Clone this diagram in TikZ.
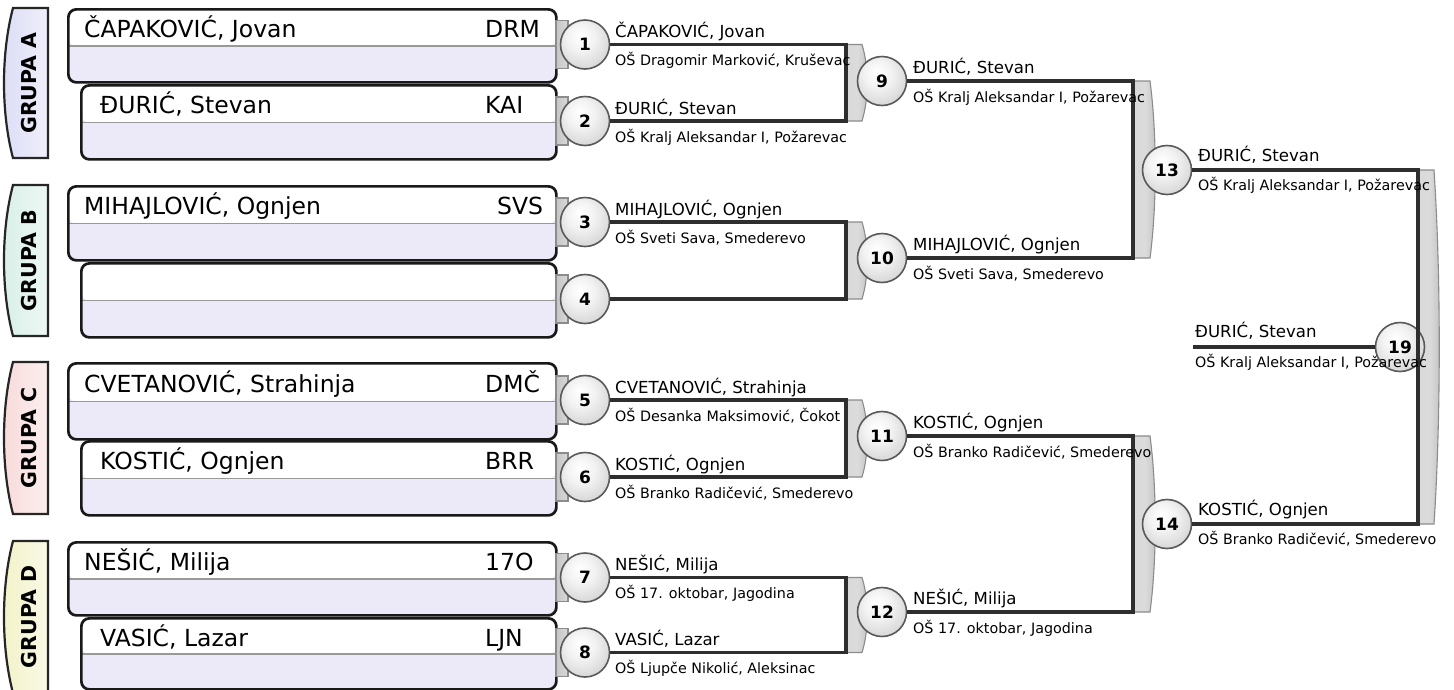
\documentclass[tikz,border=0pt]{standalone}
\usepackage{fontspec}
\setmainfont{DejaVu Sans}
\usetikzlibrary{calc}
\definecolor{boxlav}{HTML}{ECEAF8}
\definecolor{grpA}{HTML}{DCDCF6}
\definecolor{grpB}{HTML}{D8EFE8}
\definecolor{grpC}{HTML}{F8DADA}
\definecolor{grpD}{HTML}{F2F2C8}
\pgfdeclareradialshading{myball}{\pgfpoint{-6bp}{10bp}}{color(0bp)=(white); color(14bp)=(white!90!gray); color(30bp)=(white!68!gray); color(50bp)=(white!42!gray)}
\newcommand\brkshape[4]{%
  \draw[brk] (#1,#2) -- ({#1+#4},#2) .. controls ({#1+#4+7},{#2+0.3*(#3-#2)}) and ({#1+#4+7},{#2+0.7*(#3-#2)}) .. ({#1+#4},#3) -- (#1,#3) -- cycle;}
\newcommand\grptab[4]{% top, bottom, colour, text
  \draw[gtab, left color=#3, right color=#3!45!white] (48,#1) -- (13,#1) .. controls (1,{#1+0.3*(#2-#1)}) and (1,{#1+0.7*(#2-#1)}) .. (13,#2) -- (48,#2) -- cycle;
  \node[glabel] (g#4) at (29,{0.5*(#1+#2)}) {GRUPA #4};}
\begin{document}
\begin{tikzpicture}[x=1pt,y=-1pt,
  pbox/.style={draw=black!90, line width=2.7pt, rounded corners=8pt, fill=boxlav, anchor=north west, inner sep=0pt,
    path picture={\fill[white] (path picture bounding box.north west) rectangle (path picture bounding box.east);
      \draw[gray!80, line width=1.5pt] (path picture bounding box.west) -- (path picture bounding box.east);}},
  gtab/.style={draw=black!85, line width=2.2pt},
  glabel/.style={rotate=90, font=\bfseries\fontsize{20.5}{24}\selectfont, inner sep=0pt},
  brk/.style={draw=black!45, line width=1.1pt, left color=gray!30, right color=gray!48, middle color=gray!28},
  ctab/.style={draw=black!45, line width=1.1pt, left color=gray!45, right color=gray!30},
  rnd/.style={circle, draw=black!65, line width=1.6pt, shading=myball, minimum size=49pt, inner sep=0pt, font=\bfseries\fontsize{17}{20}\selectfont},
  wline/.style={draw=black!82, line width=3.1pt},
  boxname/.style={font=\fontsize{23.5}{28}\selectfont, anchor=base west, inner sep=0pt},
  winname/.style={font=\fontsize{16.6}{20}\selectfont, anchor=base west, inner sep=0pt},
  winschool/.style={font=\fontsize{14.3}{17}\selectfont, anchor=base west, inner sep=0pt}]
\useasboundingbox[fill=white] (0,0) rectangle (1454,689);
\begin{scope}
\clip (0,0) rectangle (1454,689);
% group tabs
\grptab{8}{158}{grpA}{A}
\grptab{185}{336}{grpB}{B}
\grptab{362}{514}{grpC}{C}
\grptab{541}{693}{grpD}{D}
% player boxes
\node[pbox, minimum width=488pt, minimum height=73pt] (b1) at (67,8) {};
\node[pbox, minimum width=475pt, minimum height=74pt] (b2) at (80,84) {};
\node[pbox, minimum width=488pt, minimum height=74pt] (b3) at (67,185) {};
\node[pbox, minimum width=475pt, minimum height=74pt] (b4) at (80,262) {};
\node[pbox, minimum width=488pt, minimum height=76pt] (b5) at (67,362) {};
\node[pbox, minimum width=475pt, minimum height=74pt] (b6) at (80,440) {};
\node[pbox, minimum width=488pt, minimum height=73pt] (b7) at (67,541) {};
\node[pbox, minimum width=475pt, minimum height=71pt] (b8) at (80,617) {};
% first-round tabs
\foreach \yy in {44.5,121,222,299,400,477,577.5,652.5}{
  \draw[ctab] (556,{\yy-24}) rectangle (568,{\yy+24});}
% brackets
\brkshape{846}{44.5}{121}{16}
\brkshape{846}{222}{299}{16}
\brkshape{846}{400}{477}{16}
\brkshape{846}{577.5}{652.5}{16}
\brkshape{1133}{81}{258}{17}
\brkshape{1133}{436}{612}{17}
\brkshape{1418}{170}{524}{16}
% circles
\node[rnd] (c1) at (585,44.5) {1};
\node[rnd] (c2) at (585,121) {2};
\node[rnd] (c3) at (585,222) {3};
\node[rnd] (c4) at (585,299) {4};
\node[rnd] (c5) at (585,400) {5};
\node[rnd] (c6) at (585,477) {6};
\node[rnd] (c7) at (585,577.5) {7};
\node[rnd] (c8) at (585,652.5) {8};
\node[rnd] (c9) at (882,81) {9};
\node[rnd] (c10) at (882,258) {10};
\node[rnd] (c11) at (882,436) {11};
\node[rnd] (c12) at (882,612) {12};
\node[rnd] (c13) at (1167,170) {13};
\node[rnd] (c14) at (1167,524) {14};
\node[rnd] (c19) at (1400,347) {19};
% junction coordinates
\coordinate (j9) at (846,81);
\coordinate (j10) at (846,258);
\coordinate (j11) at (846,436);
\coordinate (j12) at (846,612);
\coordinate (j13) at (1133,170);
\coordinate (j14) at (1133,524);
\coordinate (j19) at (1418,347);
\coordinate (e19) at (1193,347);
% connectors
\draw[wline] (c1.east) -- (c1.east -| j9) -- (c2.east -| j9) -- (c2.east);
\draw[wline] (c3.east) -- (c3.east -| j10) -- (c4.east -| j10) -- (c4.east);
\draw[wline] (c5.east) -- (c5.east -| j11) -- (c6.east -| j11) -- (c6.east);
\draw[wline] (c7.east) -- (c7.east -| j12) -- (c8.east -| j12) -- (c8.east);
\draw[wline] (c9.east) -- (c9.east -| j13) -- (c10.east -| j13) -- (c10.east);
\draw[wline] (c11.east) -- (c11.east -| j14) -- (c12.east -| j14) -- (c12.east);
\draw[wline] (c13.east) -- (c13.east -| j19) -- (c14.east -| j19) -- (c14.east);
\draw[wline] (c19.west) -- (e19);
% box texts
\node[boxname] (n1) at (84,37) {ČAPAKOVIĆ, Jovan};
\node[boxname] (k1) at (485,37) {DRM};
\node[boxname] (n2) at (100,113) {ĐURIĆ, Stevan};
\node[boxname] (k2) at (485,113) {KAI};
\node[boxname] (n3) at (84,214) {MIHAJLOVIĆ, Ognjen};
\node[boxname] (k3) at (497,214) {SVS};
\node[boxname] (n5) at (84,392) {CVETANOVIĆ, Strahinja};
\node[boxname] (k5) at (485,392) {DMČ};
\node[boxname] (n6) at (100,469) {KOSTIĆ, Ognjen};
\node[boxname] (k6) at (485,469) {BRR};
\node[boxname] (n7) at (84,570) {NEŠIĆ, Milija};
\node[boxname] (k7) at (485,570) {17O};
\node[boxname] (n8) at (100,646) {VASIĆ, Lazar};
\node[boxname] (k8) at (485,646) {LJN};
% round 2 winners
\node[winname] (w1) at (615,37.5) {ČAPAKOVIĆ, Jovan};
\node[winschool] (s1) at (615,65.5) {OŠ Dragomir Marković, Kruševac};
\node[winname] (w2) at (615,114) {ĐURIĆ, Stevan};
\node[winschool] (s2) at (615,142) {OŠ Kralj Aleksandar I, Požarevac};
\node[winname] (w3) at (615,215) {MIHAJLOVIĆ, Ognjen};
\node[winschool] (s3) at (615,243) {OŠ Sveti Sava, Smederevo};
\node[winname] (w5) at (615,393) {CVETANOVIĆ, Strahinja};
\node[winschool] (s5) at (615,421) {OŠ Desanka Maksimović, Čokot};
\node[winname] (w6) at (615,470) {KOSTIĆ, Ognjen};
\node[winschool] (s6) at (615,498) {OŠ Branko Radičević, Smederevo};
\node[winname] (w7) at (615,570.5) {NEŠIĆ, Milija};
\node[winschool] (s7) at (615,598.5) {OŠ 17. oktobar, Jagodina};
\node[winname] (w8) at (615,645.5) {VASIĆ, Lazar};
\node[winschool] (s8) at (615,673.5) {OŠ Ljupče Nikolić, Aleksinac};
% round 3 winners
\node[winname] (w9) at (913,73) {ĐURIĆ, Stevan};
\node[winschool] (s9) at (913,102) {OŠ Kralj Aleksandar I, Požarevac};
\node[winname] (w10) at (913,250) {MIHAJLOVIĆ, Ognjen};
\node[winschool] (s10) at (913,279) {OŠ Sveti Sava, Smederevo};
\node[winname] (w11) at (913,428) {KOSTIĆ, Ognjen};
\node[winschool] (s11) at (913,457) {OŠ Branko Radičević, Smederevo};
\node[winname] (w12) at (913,604) {NEŠIĆ, Milija};
\node[winschool] (s12) at (913,633) {OŠ 17. oktobar, Jagodina};
% round 4 winners
\node[winname] (w13) at (1198,161) {ĐURIĆ, Stevan};
\node[winschool] (s13) at (1198,190) {OŠ Kralj Aleksandar I, Požarevac};
\node[winname] (w14) at (1198,515) {KOSTIĆ, Ognjen};
\node[winschool] (s14) at (1198,544) {OŠ Branko Radičević, Smederevo};
% final winner
\node[winname] (w19) at (1195,337) {ĐURIĆ, Stevan};
\node[winschool] (s19) at (1195,367) {OŠ Kralj Aleksandar I, Požarevac};
\end{scope}
\end{tikzpicture}
\end{document}
